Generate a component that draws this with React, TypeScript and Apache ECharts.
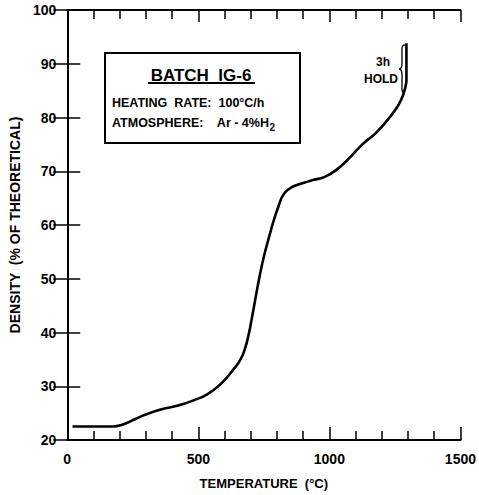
import React, { useEffect, useRef } from "react";
import * as echarts from "echarts";

const temps = [20, 100, 175, 212, 260, 297, 360, 423, 483, 534, 583, 632, 660, 678, 692, 704, 716, 732, 750, 769, 787, 806, 824, 849, 874, 906, 940, 980, 1028, 1073, 1128, 1177, 1226, 1262, 1282, 1294];
const density = [22.5, 22.5, 22.5, 22.9, 23.9, 24.7, 25.7, 26.4, 27.4, 28.5, 30.3, 33.0, 34.9, 37.0, 39.6, 42.6, 45.8, 50.0, 54.1, 57.6, 60.7, 63.5, 65.6, 66.8, 67.4, 67.9, 68.4, 68.9, 70.3, 72.3, 75.1, 77.1, 79.8, 82.2, 84.3, 86.6];
const holdTemps = [1294, 1294];
const holdDensity = [86.6, 93.8];
const xTickLabels = ["0", "500", "1000", "1500"];
const yTicks = [20, 30, 40, 50, 60, 70, 80, 90, 100];

const FONT = "'Liberation Sans', Arial, sans-serif";

echarts.graphic.registerShape(
  "brace",
  echarts.graphic.extendPath(
    "M6,0 C2,0 3,4 3,10 L3,18 C3,22 2,24 0,24 C2,24 3,26 3,30 L3,38 C3,44 2,48 6,48",
    {}
  )
);

export default function App() {
  const ref = useRef<HTMLDivElement>(null);
  useEffect(() => {
    const chart = echarts.init(ref.current!, null, { renderer: "svg" });
    const axisLine = { show: true, lineStyle: { color: "#000", width: 2 } };
    const tick = { show: true, inside: true, length: 13, lineStyle: { color: "#000", width: 1.5 } };
    const minor = { show: true, splitNumber: 5, length: 9, lineStyle: { color: "#000", width: 1.5 } };
    chart.setOption({
      animation: false,
      backgroundColor: "#fff",
      grid: { left: 63, top: 10, right: 12, bottom: 49 },
      xAxis: [
        {
          type: "value",
          min: 0,
          max: 1500,
          interval: 500,
          axisLine,
          axisTick: tick,
          minorTick: minor,
          splitLine: { show: false },
          axisLabel: {
            color: "#000",
            fontFamily: FONT,
            fontWeight: "bold",
            fontSize: 14,
            margin: 12,
            formatter: (v: number) => xTickLabels[Math.round(v / 500)] ?? "",
          },
          name: "TEMPERATURE  (°C)",
          nameLocation: "middle",
          nameGap: 37,
          nameTextStyle: { color: "#000", fontFamily: FONT, fontWeight: "bold", fontSize: 13 },
        },
        {
          type: "value",
          position: "top",
          min: 0,
          max: 1500,
          interval: 500,
          axisLine,
          axisTick: { ...tick, length: 12 },
          minorTick: minor,
          splitLine: { show: false },
          axisLabel: { show: false },
        },
      ],
      yAxis: [
        {
          type: "value",
          min: 20,
          max: 100,
          interval: 10,
          axisLine,
          axisTick: tick,
          splitLine: { show: false },
          axisLabel: {
            color: "#000",
            fontFamily: FONT,
            fontWeight: "bold",
            fontSize: 14,
            margin: 11,
            formatter: (v: number) => (yTicks.includes(v) ? String(v) : ""),
          },
          name: "DENSITY  (% OF THEORETICAL)",
          nameLocation: "middle",
          nameGap: 41,
          nameTextStyle: { color: "#000", fontFamily: FONT, fontWeight: "bold", fontSize: 14 },
        },
        {
          type: "value",
          position: "right",
          min: 20,
          max: 100,
          interval: 10,
          axisLine,
          axisTick: { ...tick, length: 14 },
          splitLine: { show: false },
          axisLabel: { show: false },
        },
      ],
      series: [
        {
          type: "line",
          data: temps.map((t, i) => [t, density[i]]),
          smooth: 0.5,
          showSymbol: false,
          lineStyle: { color: "#000", width: 2.6 },
        },
        {
          type: "line",
          data: holdTemps.map((t, i) => [t, holdDensity[i]]),
          showSymbol: false,
          lineStyle: { color: "#000", width: 2.6 },
        },
      ],
      graphic: [
        {
          type: "rect",
          shape: { x: 105, y: 53, width: 195, height: 90 },
          style: { fill: "#fff", stroke: "#000", lineWidth: 2 },
        },
        {
          type: "text",
          x: 201,
          y: 75,
          style: {
            text: "BATCH  IG-6",
            fontFamily: FONT,
            fontWeight: "bold",
            fontSize: 17,
            fill: "#000",
            align: "center",
            verticalAlign: "middle",
          },
        },
        {
          type: "line",
          shape: { x1: 148, y1: 83, x2: 255, y2: 83 },
          style: { stroke: "#000", lineWidth: 2 },
        },
        {
          type: "text",
          x: 112,
          y: 103,
          style: {
            text: "HEATING  RATE:  100°C/h",
            fontFamily: FONT,
            fontWeight: "bold",
            fontSize: 12.5,
            fill: "#000",
            verticalAlign: "middle",
          },
        },
        {
          type: "text",
          x: 112,
          y: 123,
          style: {
            text: "ATMOSPHERE:    Ar - 4%H{s|2}",
            rich: { s: { fontFamily: FONT, fontWeight: "bold", fontSize: 10, padding: [8, 0, 0, 0] } },
            fontFamily: FONT,
            fontWeight: "bold",
            fontSize: 12.5,
            fill: "#000",
            verticalAlign: "middle",
          },
        },
        {
          type: "text",
          x: 383,
          y: 62,
          style: {
            text: "3h",
            fontFamily: FONT,
            fontWeight: "bold",
            fontSize: 12,
            fill: "#000",
            align: "center",
            verticalAlign: "middle",
          },
        },
        {
          type: "text",
          x: 381,
          y: 79,
          style: {
            text: "HOLD",
            fontFamily: FONT,
            fontWeight: "bold",
            fontSize: 12,
            fill: "#000",
            align: "center",
            verticalAlign: "middle",
          },
        },
        {
          type: "brace",
          x: 399,
          y: 45,
          style: { fill: "none", stroke: "#000", lineWidth: 1.3 },
        },
      ],
    });
    return () => chart.dispose();
  }, []);
  return (
    <div
      ref={ref}
      style={{ position: "absolute", left: 0, top: 0, width: 479, height: 495 }}
    />
  );
}
